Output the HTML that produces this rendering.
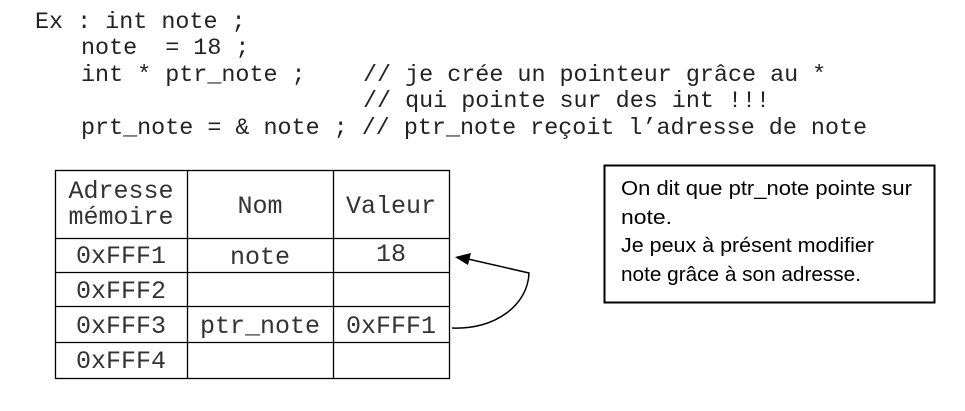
<!DOCTYPE html>
<html><head><meta charset="utf-8"><style>
html,body{margin:0;padding:0;background:#fff;}
text{white-space:pre;}
</style></head><body>
<svg width="965" height="406" xmlns="http://www.w3.org/2000/svg">
<rect width="965" height="406" fill="#fff"/>
<g font-family="Liberation Mono, monospace" font-size="23.4" fill="#222">
<text x="35" y="28">Ex : int note ;</text>
<text x="81" y="54">note  = 18 ;</text>
<text x="81" y="81">int * ptr_note ;</text>
<text x="363" y="81">// je crée un pointeur grâce au *</text>
<text x="363" y="107">// qui pointe sur des int !!!</text>
<text x="81" y="134">prt_note = &amp; note ; // ptr_note reçoit l’adresse de note</text>
</g>
<g stroke="#000" stroke-width="1.3" fill="none">
<rect x="55.5" y="170.5" width="394" height="208"/>
<line x1="187.5" y1="170" x2="187.5" y2="379"/>
<line x1="333.5" y1="170" x2="333.5" y2="379"/>
<line x1="55" y1="238.5" x2="450" y2="238.5"/>
<line x1="55" y1="272.5" x2="450" y2="272.5"/>
<line x1="55" y1="306.5" x2="450" y2="306.5"/>
<line x1="55" y1="342.5" x2="450" y2="342.5"/>
</g>
<g font-family="Liberation Mono, monospace" font-size="25" fill="#333" text-anchor="middle">
<text x="121" y="198">Adresse</text>
<text x="121" y="224">mémoire</text>
<text x="260" y="213">Nom</text>
<text x="391" y="213">Valeur</text>
<text x="121" y="263">0xFFF1</text>
<text x="260" y="264">note</text>
<text x="391" y="261">18</text>
<text x="121" y="298">0xFFF2</text>
<text x="121" y="333">0xFFF3</text>
<text x="260" y="333">ptr_note</text>
<text x="391" y="333">0xFFF1</text>
<text x="121" y="368">0xFFF4</text>
</g>
<path d="M452 328 C495 330 528 305 529 273 L468 259" stroke="#000" stroke-width="1.5" fill="none"/>
<polygon points="455,257 471,253 468,265" fill="#000"/>
<rect x="604.5" y="165.5" width="330" height="137" fill="none" stroke="#000" stroke-width="2"/>
<g font-family="Liberation Sans, sans-serif" font-size="20.5" fill="#000">
<text x="621" y="195" textLength="291" lengthAdjust="spacingAndGlyphs">On dit que ptr_note pointe sur</text>
<text x="621" y="224" textLength="51" lengthAdjust="spacingAndGlyphs">note.</text>
<text x="621" y="252" textLength="253" lengthAdjust="spacingAndGlyphs">Je peux à présent modifier</text>
<text x="621" y="281" textLength="240" lengthAdjust="spacingAndGlyphs">note grâce à son adresse.</text>
</g>
</svg>
</body></html>
